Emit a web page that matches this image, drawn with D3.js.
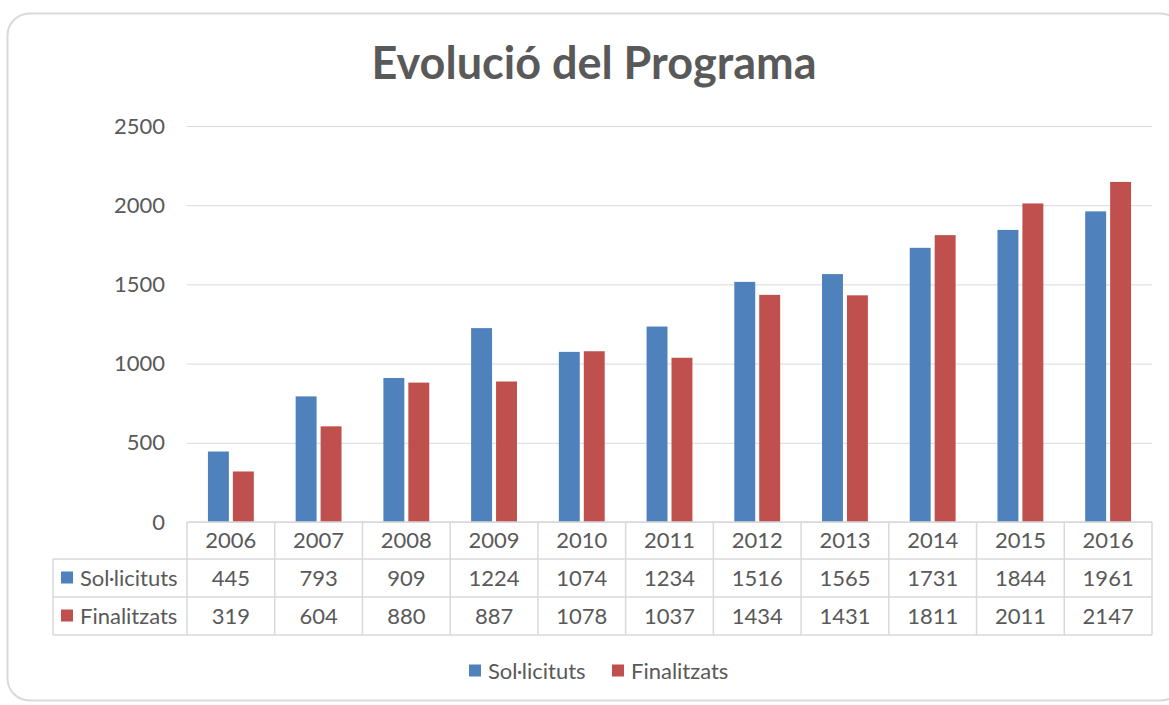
<!DOCTYPE html>
<head>
    <meta charset="utf-8">
    <script src="https://d3js.org/d3.v7.min.js"></script>
    <style>
        body { margin: 0; background: #fff; }
        text { font-family: Lato, "Open Sans", sans-serif; fill: #595959; }
    </style>
</head>
<body>
    <svg width="1169" height="705"></svg>
    <script>
        var years = [2006, 2007, 2008, 2009, 2010, 2011, 2012, 2013, 2014, 2015, 2016];
        var solicituts = [445, 793, 909, 1224, 1074, 1234, 1516, 1565, 1731, 1844, 1961];
        var finalitzats = [319, 604, 880, 887, 1078, 1037, 1434, 1431, 1811, 2011, 2147];
        var seriesNames = ["Sol·licituts", "Finalitzats"];
        var colors = ["#4f81bd", "#c0504d"];
        var yTicks = [0, 500, 1000, 1500, 2000, 2500];

        var series = [solicituts, finalitzats];
        var svg = d3.select("svg");
        var grid = "#d9d9d9";
        var fs = 22;

        // chart frame
        svg.append("rect")
            .attr("x", 7.5).attr("y", 13.5)
            .attr("width", 1175).attr("height", 687)
            .attr("rx", 22)
            .attr("fill", "#fff")
            .attr("stroke", grid)
            .attr("stroke-width", 2);

        svg.append("text")
            .attr("x", 594).attr("y", 79)
            .attr("text-anchor", "middle")
            .attr("font-size", 45)
            .attr("font-weight", "bold")
            .text("Evolució del Programa");

        var x = d3.scaleBand().domain(years).range([187, 1152]);
        var y = d3.scaleLinear().domain([0, 2500]).range([522, 126]);

        var bw = x.bandwidth() / (2 + 2.19);
        var gap = 4;
        var off = (x.bandwidth() - 2 * bw - gap) / 2;

        // gridlines + y labels
        var yAxis = d3.axisLeft(y).tickValues(yTicks).tickFormat(d3.format("d"))
            .tickSize(-(1152 - 187)).tickPadding(22);
        var gy = svg.append("g").attr("transform", "translate(187,0)").call(yAxis);
        gy.select(".domain").remove();
        gy.selectAll(".tick line").attr("stroke", grid).attr("stroke-width", 1);
        gy.selectAll(".tick text")
            .attr("font-size", fs)
            .attr("fill", "#595959")
            .style("font-family", "Lato, sans-serif");

        // bars
        series.forEach(function (vals, si) {
            svg.append("g").selectAll("rect")
                .data(years)
                .join("rect")
                .attr("x", (d, i) => x(d) + off + si * (bw + gap))
                .attr("y", (d, i) => y(vals[i]))
                .attr("width", bw)
                .attr("height", (d, i) => y(0) - y(vals[i]))
                .attr("fill", colors[si]);
        });

        // data table
        var rowTop = [522, 559, 597, 635];
        var t = svg.append("g").attr("stroke", grid).attr("stroke-width", 1.5).attr("fill", "none");
        t.append("line").attr("x1", 187).attr("x2", 1152).attr("y1", 522).attr("y2", 522);
        [559, 597, 635].forEach(function (yy) {
            t.append("line").attr("x1", 53).attr("x2", 1152).attr("y1", yy).attr("y2", yy);
        });
        years.forEach(function (yr) {
            t.append("line").attr("x1", x(yr)).attr("x2", x(yr)).attr("y1", 522).attr("y2", 635);
        });
        t.append("line").attr("x1", 1152).attr("x2", 1152).attr("y1", 522).attr("y2", 635);
        t.append("line").attr("x1", 53).attr("x2", 53).attr("y1", 559).attr("y2", 635);

        svg.append("g").selectAll("text")
            .data(years)
            .join("text")
            .attr("x", d => x(d) + x.bandwidth() / 2)
            .attr("y", (rowTop[0] + rowTop[1]) / 2)
            .attr("dy", "0.36em")
            .attr("text-anchor", "middle")
            .attr("font-size", fs)
            .text(d => d);

        series.forEach(function (vals, si) {
            var cy = (rowTop[si + 1] + rowTop[si + 2]) / 2;
            var g = svg.append("g");
            g.selectAll("text")
                .data(years)
                .join("text")
                .attr("x", d => x(d) + x.bandwidth() / 2)
                .attr("y", cy)
                .attr("dy", "0.36em")
                .attr("text-anchor", "middle")
                .attr("font-size", fs)
                .text((d, i) => vals[i]);
            g.append("rect")
                .attr("x", 61).attr("y", cy - 6.5)
                .attr("width", 12).attr("height", 12)
                .attr("fill", colors[si]);
            g.append("text")
                .attr("x", 80).attr("y", cy)
                .attr("dy", "0.36em")
                .attr("font-size", fs)
                .text(seriesNames[si]);
        });

        // legend
        var legX = [469, 612];
        seriesNames.forEach(function (name, si) {
            var lg = svg.append("g").attr("transform", "translate(" + legX[si] + ",671)");
            lg.append("rect").attr("x", 0).attr("y", -6.5).attr("width", 12).attr("height", 12).attr("fill", colors[si]);
            lg.append("text").attr("x", 19).attr("y", 0).attr("dy", "0.36em").attr("font-size", fs).text(name);
        });
    </script>
</body>
